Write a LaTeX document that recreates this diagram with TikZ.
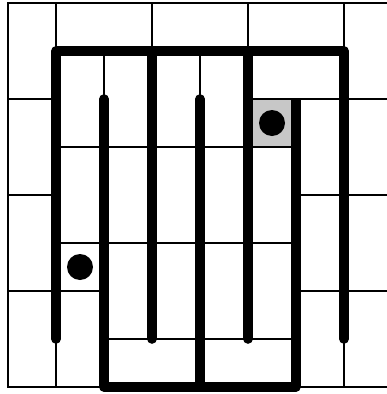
\documentclass[tikz,border=0pt]{standalone}
\begin{document}
\begin{tikzpicture}[x=1pt,y=-1pt,
  thin line/.style={line width=2.2pt,line cap=rect},
  wall/.style={line width=9.6pt,line cap=round,line join=round},
  dot/.style={fill=black},
  shade/.style={fill=black!22}]
\useasboundingbox (0,0) rectangle (387,394);
% shaded cell
\fill[shade] (248,99) rectangle (296,147);
% thin grid
\draw[thin line] (8,3) -- (387,3);
\draw[thin line] (8,3) -- (8,387) -- (387,387);
\draw[thin line] (56,3) -- (56,51);
\draw[thin line] (152,3) -- (152,51);
\draw[thin line] (248,3) -- (248,51);
\draw[thin line] (344,3) -- (344,51);
\draw[thin line] (56,339) -- (56,387);
\draw[thin line] (344,339) -- (344,387);
\draw[thin line] (104,51) -- (104,99);
\draw[thin line] (200,51) -- (200,99);
\draw[thin line] (8,99) -- (56,99);
\draw[thin line] (248,99) -- (387,99);
\draw[thin line] (56,147) -- (296,147);
\draw[thin line] (8,195) -- (56,195);
\draw[thin line] (296,195) -- (387,195);
\draw[thin line] (56,243) -- (296,243);
\draw[thin line] (8,291) -- (104,291);
\draw[thin line] (296,291) -- (387,291);
\draw[thin line] (104,339) -- (296,339);
% thick walls
\draw[wall] (56,339) -- (56,51) -- (344,51) -- (344,339);
\draw[wall] (104,99) -- (104,387) -- (296,387);
\draw[wall,line cap=butt] (296,387) -- (296,99);
\draw[wall] (152,51) -- (152,339);
\draw[wall] (200,99) -- (200,387);
\draw[wall] (248,51) -- (248,339);
% dots
\fill[dot] (272,123) circle (13);
\fill[dot] (80,267) circle (13);
\end{tikzpicture}
\end{document}
